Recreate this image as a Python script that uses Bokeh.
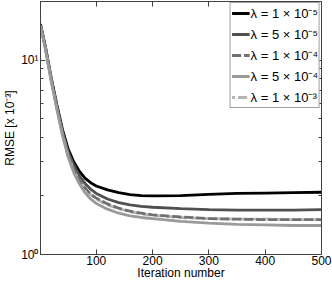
from bokeh.plotting import figure
from bokeh.models import Range1d, FixedTicker, LinearAxis, LogAxis, Legend, LegendItem, CustomJSTickFormatter
from bokeh.embed import file_html
from bokeh.resources import INLINE

iters = [1, 10, 20, 30, 40, 50, 60, 70, 80, 90, 100, 120, 140, 160, 180, 200, 250, 300, 350, 400, 450, 500]

rmse_1e5 = [15.3, 11.6, 8.1, 5.9, 4.4, 3.5, 3.0, 2.68, 2.47, 2.34, 2.25, 2.15, 2.08, 2.03, 2.01, 2.00, 2.01, 2.04, 2.06, 2.07, 2.08, 2.09]
rmse_5e5 = [15.2, 11.5, 8.0, 5.8, 4.3, 3.38, 2.88, 2.54, 2.32, 2.17, 2.06, 1.93, 1.85, 1.80, 1.77, 1.75, 1.72, 1.70, 1.69, 1.69, 1.69, 1.70]
rmse_1e4 = [15.1, 11.4, 7.9, 5.7, 4.2, 3.28, 2.76, 2.42, 2.20, 2.05, 1.95, 1.82, 1.73, 1.67, 1.63, 1.60, 1.56, 1.53, 1.52, 1.51, 1.51, 1.51]
rmse_5e4 = [15.0, 11.3, 7.8, 5.6, 4.1, 3.18, 2.64, 2.31, 2.08, 1.93, 1.83, 1.71, 1.63, 1.58, 1.55, 1.53, 1.48, 1.45, 1.43, 1.42, 1.41, 1.41]
rmse_1e3 = [15.0, 11.3, 7.85, 5.65, 4.15, 3.23, 2.72, 2.39, 2.17, 2.03, 1.93, 1.80, 1.72, 1.66, 1.62, 1.59, 1.55, 1.53, 1.52, 1.52, 1.51, 1.51]

labels = ["λ = 1 × 10⁻⁵", "λ = 5 × 10⁻⁵", "λ = 1 × 10⁻⁴", "λ = 5 × 10⁻⁴", "λ = 1 × 10⁻³"]

x_ticks = [100, 200, 300, 400, 500]
y_major = [1, 10]
y_minor = [2, 3, 4, 5, 6, 7, 8, 9, 20]
y_tick_labels = {1: "10⁰", 10: "10¹"}

FONT = "Liberation Sans"
AX = "#404040"

p = figure(width=332, height=282, output_backend="svg", toolbar_location=None,
           y_axis_type="log", x_range=Range1d(1, 500), y_range=Range1d(1, 20),
           min_border_left=0, min_border_right=11, min_border_top=1, min_border_bottom=0,
           background_fill_color="white", border_fill_color="white")
p.xgrid.visible = False
p.ygrid.visible = False
p.outline_line_color = AX
p.outline_line_width = 1

def style_axis(ax, show_labels=True):
    ax.axis_line_color = AX
    ax.major_tick_line_color = AX
    ax.minor_tick_line_color = AX
    ax.major_tick_out = 0
    ax.major_tick_in = 5
    ax.minor_tick_out = 0
    ax.minor_tick_in = 3
    ax.major_label_text_font = FONT
    ax.major_label_text_font_size = "12px" if show_labels else "1px"
    ax.major_label_text_color = "black"
    ax.major_label_standoff = 1 if show_labels else 0
    ax.axis_label_text_font = FONT
    ax.axis_label_text_font_size = "12px"
    ax.axis_label_text_font_style = "normal"
    ax.axis_label_text_color = "black"
    ax.axis_label_standoff = 0
    if not show_labels:
        ax.formatter = CustomJSTickFormatter(code="return ''")

xa = p.xaxis[0]
xa.ticker = FixedTicker(ticks=x_ticks)
xa.axis_label = "Iteration number"
style_axis(xa)
xa.minor_tick_in = 0
xa.axis_label_standoff = -2

ya = p.yaxis[0]
ya.ticker = FixedTicker(ticks=y_major, minor_ticks=y_minor)
ya.major_label_overrides = y_tick_labels
ya.axis_label = "RMSE [x 10⁻³]"
style_axis(ya)
ya.major_label_standoff = 2
ya.axis_label_standoff = 1

top = LinearAxis(ticker=FixedTicker(ticks=x_ticks))
style_axis(top, False)
top.minor_tick_in = 0
p.add_layout(top, "above")

right = LogAxis(ticker=FixedTicker(ticks=y_major, minor_ticks=y_minor))
style_axis(right, False)
p.add_layout(right, "right")

W = 2.8
r1 = p.line(iters, rmse_1e5, line_color="#000000", line_width=W)
r2 = p.line(iters, rmse_5e5, line_color="#505050", line_width=W)
r5 = p.line(iters, rmse_1e3, line_color="#b4b4b4", line_width=W, line_dash="9 3", line_dash_offset=6)
r3 = p.line(iters, rmse_1e4, line_color="#707070", line_width=W, line_dash="9 3")
r4 = p.line(iters, rmse_5e4, line_color="#9a9a9a", line_width=W)

legend = Legend(items=[LegendItem(label=l, renderers=[r]) for l, r in zip(labels, [r1, r2, r3, r4, r5])],
                location="top_right")
legend.label_text_font = FONT
legend.label_text_font_size = "13px"
legend.label_text_color = "black"
legend.border_line_color = AX
legend.border_line_width = 1
legend.background_fill_color = "white"
legend.background_fill_alpha = 1
legend.margin = 1
legend.padding = 1
legend.spacing = 3
legend.label_height = 16
legend.glyph_height = 16
legend.glyph_width = 18
legend.label_standoff = 1
p.add_layout(legend, "center")

open("out.html", "w").write(file_html(p, INLINE))
